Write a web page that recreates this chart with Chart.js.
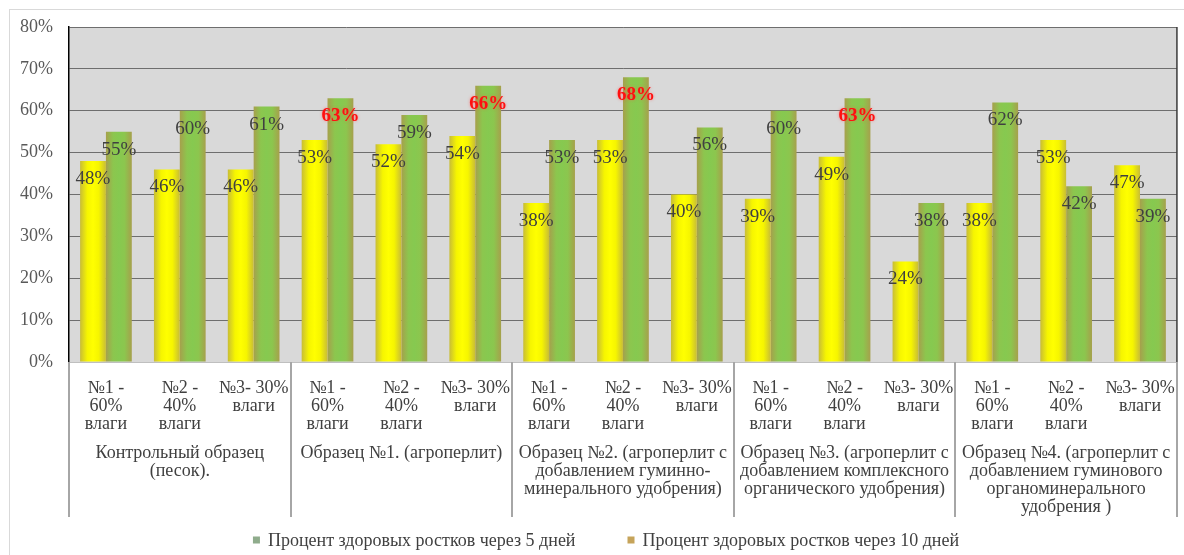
<!DOCTYPE html>
<html>
<head>
<meta charset="utf-8">
<script src="https://cdn.jsdelivr.net/npm/chart.js@4/dist/chart.umd.min.js"></script>
<style>
  html, body { margin: 0; padding: 0; background: #ffffff; }
  #frame { position: absolute; left: 9px; top: 9px; width: 1180px; height: 560px; border: 1px solid #d9d9d9; }
  #wrap { position: absolute; left: 0; top: 0; width: 1184px; height: 555px; }
</style>
</head>
<body>
<div id="frame"></div>
<div id="wrap"><canvas id="chart" width="1184" height="555"></canvas></div>
<script>
// Moisture regimes repeated under each sample
const moistureLabels = [
  ["№1 -", "60%", "влаги"],
  ["№2 -", "40%", "влаги"],
  ["№3- 30%", "влаги"]
];

// Substrate samples (outer category row)
const sampleGroups = [
  ["Контрольный образец", "(песок)."],
  ["Образец №1. (агроперлит)"],
  ["Образец №2. (агроперлит с", "добавлением гуминно-", "минерального удобрения)"],
  ["Образец №3. (агроперлит с", "добавлением комплексного", "органического удобрения)"],
  ["Образец №4. (агроперлит с", "добавлением гуминового", "органоминерального", "удобрения )"]
];

const seriesNames = [
  "Процент здоровых ростков через 5 дней",
  "Процент здоровых ростков через 10 дней"
];

// Share of healthy sprouts, %
const after5Days  = [48, 46, 46, 53, 52, 54, 38, 53, 40, 39, 49, 24, 38, 53, 47];
const after10Days = [55, 60, 61, 63, 59, 66, 53, 68, 56, 60, 63, 38, 62, 42, 39];

// Best 10-day result of a sample, printed in red
const bestInSample = [false, false, false, true, false, true, false, true, false, false, true, false, false, false, false];

const yTicks = [0, 10, 20, 30, 40, 50, 60, 70, 80];

const categories = sampleGroups.flatMap(() => moistureLabels);

const SERIF = "'Liberation Serif', 'Times New Roman', serif";
const CAT_PCT = 0.7;

const legendColors = ["#8fac8c", "#c6a45a"];
const barStops = [
  [[0, "#c8bd36"], [0.28, "#f6f500"], [0.5, "#ffff00"], [0.72, "#f6f500"], [1, "#c8bd36"]],
  [[0, "#a6a04c"], [0.28, "#8cc64e"], [0.5, "#86c950"], [0.72, "#8cc64e"], [1, "#a6a04c"]]
];

// Horizontal shading across each bar, computed from the category scale
function barFill(ctx) {
  const stops = barStops[ctx.datasetIndex];
  const chart = ctx.chart;
  const xs = chart.scales && chart.scales.x;
  if (ctx.type !== "data" || !chart.chartArea || !xs) return stops[2][1];
  const step = xs.getPixelForValue(1) - xs.getPixelForValue(0);
  const barW = step * CAT_PCT / 2;
  const cx = xs.getPixelForValue(ctx.dataIndex) + (ctx.datasetIndex === 0 ? -barW / 2 : barW / 2);
  const g = chart.ctx.createLinearGradient(cx - barW / 2, 0, cx + barW / 2, 0);
  stops.forEach(([o, c]) => g.addColorStop(o, c));
  return g;
}

const plotFrame = {
  id: "plotFrame",
  beforeDraw(chart) {
    const { ctx, chartArea: a } = chart;
    ctx.save();
    ctx.fillStyle = "#d9d9d9";
    ctx.fillRect(a.left, a.top, a.right - a.left, a.bottom - a.top);
    ctx.restore();
  },
  beforeDatasetsDraw(chart) {
    const { ctx, chartArea: a } = chart;
    ctx.save();
    ctx.strokeStyle = "#3a3a3a";
    ctx.lineWidth = 1.5;
    ctx.beginPath();
    ctx.moveTo(a.right, a.top);
    ctx.lineTo(a.right, a.bottom);
    ctx.stroke();
    ctx.restore();
  },
  afterDraw(chart) {
    // separators between samples across both label rows
    const { ctx, chartArea: a } = chart;
    const xs = chart.scales.x;
    const x2 = chart.scales.x2;
    const step = xs.getPixelForValue(1) - xs.getPixelForValue(0);
    ctx.save();
    ctx.strokeStyle = "#a6a6a6";
    ctx.lineWidth = 2;
    for (let k = 0; k <= sampleGroups.length; k++) {
      const idx = k * moistureLabels.length;
      const x = Math.round(xs.getPixelForValue(Math.min(idx, categories.length - 1)) + (idx < categories.length ? -step / 2 : step / 2));
      ctx.beginPath();
      ctx.moveTo(x, a.bottom);
      ctx.lineTo(x, x2.bottom - 3);
      ctx.stroke();
    }
    ctx.restore();
  }
};

const valueLabels = {
  id: "valueLabels",
  afterDatasetsDraw(chart) {
    const ctx = chart.ctx;
    ctx.save();
    ctx.textAlign = "center";
    ctx.textBaseline = "middle";
    chart.data.datasets.forEach((ds, i) => {
      const meta = chart.getDatasetMeta(i);
      meta.data.forEach((el, j) => {
        const red = i === 1 && bestInSample[j];
        ctx.font = (red ? "bold " : "") + "19px " + SERIF;
        ctx.fillStyle = red ? "#ff1010" : "#404040";
        if (red) { ctx.shadowColor = "rgba(255,80,80,0.6)"; ctx.shadowBlur = 3; }
        else { ctx.shadowBlur = 0; }
        ctx.fillText(ds.data[j] + "%", el.x, el.y + 18);
      });
    });
    ctx.restore();
  }
};

const seriesLegend = {
  id: "seriesLegend",
  afterDraw(chart) {
    const ctx = chart.ctx;
    ctx.save();
    ctx.font = "18px " + SERIF;
    ctx.textBaseline = "middle";
    const box = 7, gapText = 8, gapItem = 52;
    const widths = seriesNames.map(t => box + gapText + ctx.measureText(t).width);
    const total = widths[0] + gapItem + widths[1];
    let x = 606 - total / 2;
    const y = 540;
    seriesNames.forEach((name, i) => {
      ctx.fillStyle = legendColors[i];
      ctx.fillRect(x, y - box / 2, box, box);
      ctx.fillStyle = "#404040";
      ctx.fillText(name, x + box + gapText, y + 1);
      x += widths[i] + gapItem;
    });
    ctx.restore();
  }
};

new Chart(document.getElementById("chart"), {
  type: "bar",
  data: {
    labels: categories,
    datasets: [
      { label: seriesNames[0], data: after5Days, backgroundColor: barFill, borderWidth: 0 },
      { label: seriesNames[1], data: after10Days, backgroundColor: barFill, borderWidth: 0 }
    ]
  },
  options: {
    responsive: false,
    animation: false,
    events: [],
    datasets: { bar: { categoryPercentage: CAT_PCT, barPercentage: 1.0 } },
    layout: { padding: { left: 0, right: 5, top: 27, bottom: 35 } },
    plugins: { legend: { display: false }, tooltip: { enabled: false } },
    scales: {
      y: {
        min: yTicks[0],
        max: yTicks[yTicks.length - 1],
        afterBuildTicks: s => { s.ticks = yTicks.map(v => ({ value: v })); },
        afterFit: s => { s.width = 69; },
        grid: { color: "#6e6e6e", lineWidth: 1, drawTicks: false },
        border: { color: "#000000", width: 1.5 },
        ticks: {
          padding: 16,
          color: "#595959",
          font: { family: SERIF, size: 18 },
          callback: v => v + "%"
        }
      },
      x: {
        weight: 0,
        afterFit: s => { s.height = 74; },
        grid: { display: false },
        border: { color: "#bfbfbf", width: 1 },
        ticks: {
          padding: 9,
          autoSkip: false,
          maxRotation: 0,
          minRotation: 0,
          color: "#404040",
          font: { family: SERIF, size: 18, lineHeight: "18px" }
        }
      },
      x2: {
        type: "category",
        position: "bottom",
        weight: 1,
        labels: sampleGroups,
        offset: true,
        afterFit: s => { s.height = 84; },
        grid: { display: false },
        border: { display: false },
        ticks: {
          padding: 0,
          autoSkip: false,
          maxRotation: 0,
          minRotation: 0,
          color: "#404040",
          font: { family: SERIF, size: 18, lineHeight: "18px" }
        }
      }
    }
  },
  plugins: [plotFrame, valueLabels, seriesLegend]
});
</script>
</body>
</html>
